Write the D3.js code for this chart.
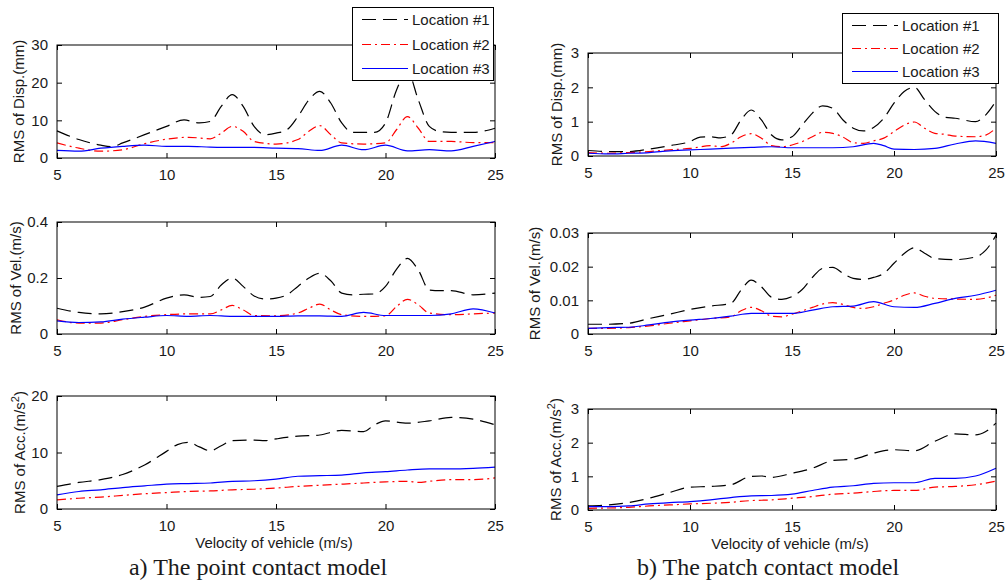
<!DOCTYPE html>
<html>
<head>
<meta charset="utf-8">
<script src="https://cdn.jsdelivr.net/npm/d3@7"></script>
<style>
  body { margin: 0; background: #fff; }
  text { font-family: Arial, "Liberation Sans", sans-serif; fill: #1a1a1a; }
</style>
</head>
<body>
<div id="chart"></div>
<script>
// ---- data: [velocity (m/s), RMS value] ----
var velTicks = [5, 10, 15, 20, 25];
var legendLabels = ["Location #1", "Location #2", "Location #3"];

// a) point contact - displacement (mm)
var aDisp1 = [[5,7.2],[6,4.9],[7,3.4],[7.5,3.0],[8,4.0],[9,6.2],[10,8.4],[10.8,10.1],[11.5,9.3],[12,9.7],[12.5,13.7],[13,16.8],[13.5,13.7],[14,8.4],[14.5,6.2],[15,6.6],[15.5,7.5],[16,11],[16.5,15.4],[17,17.7],[17.5,14.6],[18,9.3],[18.5,6.8],[19,6.8],[19.5,6.8],[20,9.3],[20.5,18],[21,23],[21.5,15.4],[22,8.4],[22.5,7],[23,6.8],[24,6.8],[25,7.9]];
var aDisp2 = [[5,4.0],[6,2.6],[7,1.8],[8,2.2],[9,3.8],[10,5.0],[11,5.5],[12,5.1],[12.5,6.6],[13,8.4],[13.5,7.1],[14,4.4],[15,3.7],[16,4.9],[16.5,7.1],[17,8.6],[17.5,6.2],[18,4.0],[19,3.7],[20,4.0],[20.5,7.5],[21,11],[21.5,7.9],[22,4.4],[23,4.4],[24,4.1],[25,4.1]];
var aDisp3 = [[5,2.0],[6,1.8],[7,2.6],[8,3.1],[9,3.4],[10,3.1],[11,3.1],[12,2.9],[13,2.8],[14,2.8],[15,2.6],[16,2.5],[17,2.0],[18,3.4],[19,2.2],[20,3.4],[21,1.9],[22,2.2],[23,1.9],[24,3.1],[25,4.4]];

// a) point contact - velocity (m/s)
var aVel1 = [[5,0.092],[6,0.077],[7,0.072],[8,0.08],[9,0.096],[10,0.128],[10.8,0.14],[11.5,0.131],[12,0.134],[12.5,0.175],[13,0.2],[13.5,0.17],[14,0.136],[14.5,0.125],[15,0.128],[15.5,0.14],[16,0.17],[16.5,0.2],[17,0.217],[17.5,0.19],[18,0.146],[18.5,0.14],[19,0.142],[19.5,0.143],[20,0.17],[20.5,0.231],[21,0.27],[21.5,0.228],[22,0.157],[22.5,0.155],[23,0.155],[24,0.14],[25,0.146]];
var aVel2 = [[5,0.051],[6,0.039],[7,0.039],[8,0.051],[9,0.063],[10,0.069],[11,0.072],[12,0.072],[12.5,0.086],[13,0.102],[13.5,0.086],[14,0.066],[15,0.065],[16,0.075],[16.5,0.092],[17,0.107],[17.5,0.086],[18,0.069],[19,0.063],[20,0.065],[20.5,0.098],[21,0.124],[21.5,0.104],[22,0.075],[23,0.069],[24,0.072],[25,0.075]];
var aVel3 = [[5,0.047],[6,0.041],[7,0.043],[8,0.053],[9,0.06],[10,0.066],[11,0.063],[12,0.066],[13,0.063],[14,0.063],[15,0.063],[16,0.065],[17,0.065],[18,0.063],[19,0.077],[20,0.066],[21,0.066],[22,0.066],[23,0.072],[24,0.09],[25,0.075]];

// a) point contact - acceleration (m/s2)
var aAcc1 = [[5,4.0],[6,4.7],[7,5.2],[8,6.1],[9,7.8],[10,10.2],[10.5,11.4],[11,11.8],[11.5,11.0],[12,10.3],[12.5,11.2],[13,12.1],[14,12.2],[14.5,12.1],[15,12.4],[16,12.9],[17,13.1],[18,13.9],[19,13.7],[19.5,14.9],[20,15.6],[21,15.2],[22,15.6],[23,16.2],[24,15.9],[25,14.9]];
var aAcc2 = [[5,1.6],[6,1.9],[7,2.1],[8,2.4],[9,2.7],[10,2.9],[11,3.1],[12,3.2],[13,3.4],[14,3.5],[15,3.7],[16,4.0],[17,4.2],[18,4.4],[19,4.6],[20,4.8],[21,4.9],[21.5,4.7],[22,4.9],[23,5.2],[24,5.2],[25,5.5]];
var aAcc3 = [[5,2.5],[6,3.1],[7,3.4],[8,3.8],[9,4.1],[10,4.4],[11,4.5],[12,4.6],[13,4.9],[14,5.0],[15,5.3],[16,5.8],[17,5.9],[18,6.0],[19,6.4],[20,6.6],[21,6.9],[22,7.1],[23,7.1],[24,7.2],[25,7.4]];

// b) patch contact - displacement (mm)
var bDisp1 = [[5,0.16],[6,0.13],[7,0.13],[8,0.2],[9,0.3],[10,0.42],[10.5,0.55],[11,0.56],[11.5,0.53],[12,0.61],[12.5,1.05],[13,1.34],[13.5,1.05],[14,0.61],[14.5,0.47],[15,0.56],[15.5,0.9],[16,1.25],[16.5,1.46],[17,1.39],[17.5,1.05],[18,0.81],[18.5,0.73],[19,0.83],[19.5,1.1],[20,1.54],[20.5,1.88],[21,2.0],[21.5,1.64],[22,1.3],[22.5,1.13],[23,1.1],[24,1.0],[24.5,1.2],[25,1.6]];
var bDisp2 = [[5,0.1],[6,0.08],[7,0.1],[8,0.13],[9,0.18],[10,0.22],[11,0.3],[11.5,0.27],[12,0.37],[12.5,0.56],[13,0.65],[13.5,0.52],[14,0.3],[14.5,0.27],[15,0.32],[15.5,0.42],[16,0.56],[16.5,0.69],[17,0.66],[17.5,0.55],[18,0.39],[18.5,0.37],[19,0.44],[19.5,0.52],[20,0.71],[20.5,0.9],[21,0.99],[21.5,0.81],[22,0.66],[22.5,0.63],[23,0.58],[24,0.56],[24.5,0.61],[25,0.81]];
var bDisp3 = [[5,0.08],[6,0.06],[7,0.08],[8,0.1],[9,0.15],[10,0.18],[11,0.2],[12,0.23],[13,0.25],[14,0.27],[15,0.24],[16,0.24],[17,0.24],[18,0.27],[19,0.37],[19.5,0.3],[20,0.2],[21,0.19],[22,0.22],[23,0.35],[24,0.44],[25,0.37]];

// b) patch contact - velocity (m/s)
var bVel1 = [[5,0.0029],[6,0.0029],[7,0.0032],[8,0.0046],[9,0.0059],[10,0.0073],[11,0.0083],[12,0.0091],[12.5,0.013],[13,0.016],[13.5,0.014],[14,0.0109],[14.5,0.0103],[15,0.0111],[15.5,0.0132],[16,0.0168],[16.5,0.0195],[17,0.0198],[17.5,0.018],[18,0.0165],[18.5,0.0162],[19,0.0168],[19.5,0.018],[20,0.021],[20.5,0.0239],[21,0.0256],[21.5,0.024],[22,0.0224],[23,0.0221],[24,0.0229],[24.5,0.0249],[25,0.0293]];
var bVel2 = [[5,0.0017],[6,0.0017],[7,0.0019],[8,0.0024],[9,0.0032],[10,0.0039],[11,0.0046],[12,0.0051],[12.5,0.0069],[13,0.0079],[13.5,0.0069],[14,0.0053],[14.5,0.0051],[15,0.0059],[16,0.0079],[16.5,0.0089],[17,0.0093],[17.5,0.0088],[18,0.0079],[18.5,0.0076],[19,0.0081],[19.5,0.0091],[20,0.0101],[20.5,0.0115],[21,0.0122],[21.5,0.0112],[22,0.0106],[23,0.0104],[24,0.0103],[25,0.0115]];
var bVel3 = [[5,0.0017],[6,0.0019],[7,0.002],[8,0.0027],[9,0.0035],[10,0.0041],[11,0.0046],[12,0.0053],[13,0.0061],[14,0.0061],[15,0.0061],[16,0.0071],[17,0.0081],[18,0.0083],[19,0.0096],[20,0.0081],[21,0.0079],[22,0.0091],[23,0.0106],[24,0.0115],[25,0.013]];

// b) patch contact - acceleration (m/s2)
var bAcc1 = [[5,0.12],[6,0.15],[7,0.22],[8,0.35],[9,0.52],[10,0.68],[11,0.7],[12,0.75],[13,1.0],[13.5,1.01],[14,0.97],[15,1.09],[16,1.24],[17,1.47],[18,1.51],[19,1.69],[20,1.79],[21,1.76],[22,2.04],[23,2.26],[24,2.23],[24.5,2.33],[25,2.58]];
var bAcc2 = [[5,0.05],[6,0.06],[7,0.08],[8,0.12],[9,0.15],[10,0.18],[11,0.2],[12,0.23],[13,0.28],[14,0.3],[15,0.35],[16,0.4],[17,0.47],[18,0.5],[19,0.55],[20,0.58],[21,0.58],[22,0.68],[23,0.7],[24,0.75],[25,0.86]];
var bAcc3 = [[5,0.1],[6,0.1],[7,0.12],[8,0.18],[9,0.22],[10,0.25],[11,0.3],[12,0.37],[13,0.42],[14,0.43],[15,0.47],[16,0.58],[17,0.68],[18,0.72],[19,0.79],[20,0.81],[21,0.81],[22,0.94],[23,0.94],[24,1.01],[25,1.24]];

var dispTicksA = [0, 10, 20, 30], velTicksA = [0, 0.2, 0.4], accTicksA = [0, 10, 20];
var dispTicksB = [0, 1, 2, 3], velTicksB = [0, 0.01, 0.02, 0.03], accTicksB = [0, 1, 2, 3];

// ---- drawing ----
var width = 1007, height = 582;

var svg = d3.select("#chart")
  .append("svg")
  .attr("width", width)
  .attr("height", height);

var styles = [
  { color: "#000000", dash: "14,7" },
  { color: "#ff0000", dash: "9,4,2,4" },
  { color: "#0000ff", dash: null }
];

var panels = [
  { left: 57, right: 495, top: 45, bottom: 158, yt: dispTicksA, fmt: d3.format("d"), series: [aDisp1, aDisp2, aDisp3], label: "RMS of Disp.(mm)", lx: 19, legend: { x: 352, y: 7, w: 141, h: 73 } },
  { left: 57, right: 495, top: 222, bottom: 334, yt: velTicksA, fmt: function(d) { return d === 0 ? "0" : d3.format(".1f")(d) }, series: [aVel1, aVel2, aVel3], label: "RMS of Vel.(m/s)", lx: 16 },
  { left: 57, right: 495, top: 396, bottom: 509, yt: accTicksA, fmt: d3.format("d"), series: [aAcc1, aAcc2, aAcc3], label: "acc", lx: 20, xlabel: true },
  { left: 588, right: 996, top: 53, bottom: 156, yt: dispTicksB, fmt: d3.format("d"), series: [bDisp1, bDisp2, bDisp3], label: "RMS of Disp.(mm)", lx: 557, legend: { x: 842, y: 13, w: 156, h: 70 } },
  { left: 588, right: 996, top: 233, bottom: 334, yt: velTicksB, fmt: function(d) { return d === 0 ? "0" : d3.format(".2f")(d) }, series: [bVel1, bVel2, bVel3], label: "RMS of Vel.(m/s)", lx: 535 },
  { left: 588, right: 996, top: 409, bottom: 510, yt: accTicksB, fmt: d3.format("d"), series: [bAcc1, bAcc2, bAcc3], label: "acc", lx: 556, xlabel: true }
];

panels.forEach(function(p) {
  var x = d3.scaleLinear().domain([5, 25]).range([p.left, p.right]);
  var yMax = p.yt[p.yt.length - 1];
  var y = d3.scaleLinear().domain([0, yMax]).range([p.bottom, p.top]);
  var g = svg.append("g");

  g.append("rect")
    .attr("x", p.left).attr("y", p.top)
    .attr("width", p.right - p.left).attr("height", p.bottom - p.top)
    .attr("fill", "#fff");

  var line = d3.line()
    .x(function(d) { return x(d[0]) })
    .y(function(d) { return y(d[1]) })
    .curve(d3.curveMonotoneX);

  p.series.forEach(function(s, i) {
    g.append("path")
      .datum(s)
      .attr("d", line)
      .attr("fill", "none")
      .attr("stroke", styles[i].color)
      .attr("stroke-width", 1.2)
      .attr("stroke-dasharray", styles[i].dash);
  });

  // matlab style box: inward ticks on all four sides
  var tl = 5;
  g.append("g").attr("transform", "translate(0," + p.bottom + ")")
    .call(d3.axisBottom(x).tickValues(velTicks).tickSizeInner(-tl).tickSizeOuter(0).tickPadding(tl + 6))
  g.append("g").attr("transform", "translate(0," + p.top + ")")
    .call(d3.axisTop(x).tickValues(velTicks).tickSizeInner(-tl).tickSizeOuter(0).tickFormat(""))
  g.append("g").attr("transform", "translate(" + p.left + ",0)")
    .call(d3.axisLeft(y).tickValues(p.yt).tickSizeInner(-tl).tickSizeOuter(0).tickPadding(tl + 4).tickFormat(p.fmt))
  g.append("g").attr("transform", "translate(" + p.right + ",0)")
    .call(d3.axisRight(y).tickValues(p.yt).tickSizeInner(-tl).tickSizeOuter(0).tickFormat(""))

  g.selectAll(".domain").remove();
  g.selectAll(".tick line").attr("stroke", "#000");
  g.selectAll(".tick text")
    .style("font-size", "15px")
    .style("font-family", "Arial, 'Liberation Sans', sans-serif")
    .attr("fill", "#1a1a1a");

  g.append("rect")
    .attr("x", p.left).attr("y", p.top)
    .attr("width", p.right - p.left).attr("height", p.bottom - p.top)
    .attr("fill", "none")
    .attr("stroke", "#000")
    .attr("stroke-width", 1);

  // y label
  var cy = (p.top + p.bottom) / 2;
  var yl = g.append("text")
    .attr("transform", "translate(" + p.lx + "," + cy + ") rotate(-90)")
    .attr("text-anchor", "middle")
    .attr("dy", "0.35em")
    .style("font-size", "15px");
  if (p.label === "acc") {
    yl.append("tspan").text("RMS of Acc.(m/s");
    yl.append("tspan").attr("baseline-shift", "super").style("font-size", "11px").text("2");
    yl.append("tspan").text(")");
  } else {
    yl.text(p.label);
  }

  if (p.xlabel) {
    g.append("text")
      .attr("x", (p.left + p.right) / 2 - 2)
      .attr("y", p.bottom + 39)
      .attr("text-anchor", "middle")
      .style("font-size", "15px")
      .text("Velocity of vehicle (m/s)");
  }

  // legend
  if (p.legend) {
    var L = p.legend;
    var lg = g.append("g");
    lg.append("rect")
      .attr("x", L.x + 0.5).attr("y", L.y + 0.5).attr("width", L.w).attr("height", L.h)
      .attr("fill", "#fff").attr("stroke", "#000").attr("stroke-width", 1);
    var rowH = L.h / 3;
    legendLabels.forEach(function(name, i) {
      var ry = Math.round(L.y + rowH * (i + 0.5)) + 0.5;
      lg.append("line")
        .attr("x1", L.x + 10).attr("x2", L.x + 56)
        .attr("y1", ry).attr("y2", ry)
        .attr("stroke", styles[i].color)
        .attr("stroke-width", 1.2)
        .attr("stroke-dasharray", styles[i].dash);
      lg.append("text")
        .attr("x", L.x + 60).attr("y", ry)
        .attr("dy", "0.35em")
        .style("font-size", "15px")
        .text(name);
    });
  }
});

// captions
var captions = [
  { text: "a) The point contact model", cx: 258 },
  { text: "b) The patch contact model", cx: 768 }
];
svg.selectAll(".caption")
  .data(captions)
  .enter().append("text")
  .attr("class", "caption")
  .attr("x", function(d) { return d.cx })
  .attr("y", 575)
  .attr("text-anchor", "middle")
  .style("font-family", "'Liberation Serif', 'Times New Roman', serif")
  .style("font-size", "24px")
  .attr("fill", "#000")
  .text(function(d) { return d.text });
</script>
</body>
</html>
